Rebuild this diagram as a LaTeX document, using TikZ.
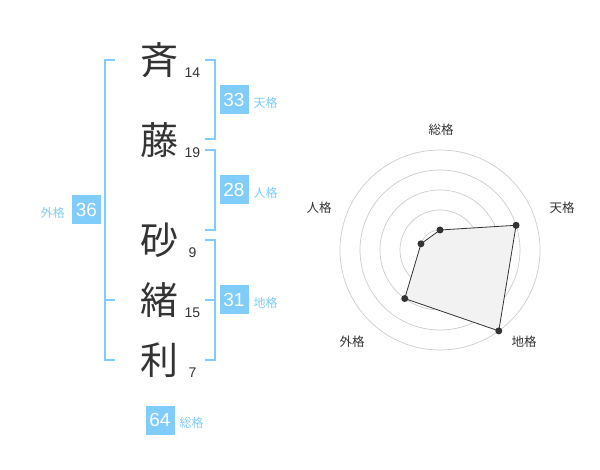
\documentclass[tikz,border=0pt]{standalone}
\usepackage{fontspec}
\setmainfont{Liberation Sans}
\newfontfamily\jp{Noto Sans CJK JP}
\definecolor{kakuBlue}{HTML}{80CCFA}
\definecolor{inkGray}{HTML}{333333}
\definecolor{ringGray}{HTML}{CCCCCC}
\definecolor{areaGray}{HTML}{F2F2F2}

\begin{document}
\begin{tikzpicture}[x=1pt, y=-1pt,
    kanji/.style={font=\jp\fontsize{38}{38}\selectfont, text=inkGray, inner sep=0pt},
    strokes/.style={font=\fontsize{14}{14}\selectfont, text=inkGray, inner sep=0pt},
    score/.style={fill=kakuBlue, text=white, font=\fontsize{19}{19}\selectfont,
                  minimum size=29pt, inner sep=0pt},
    kaku/.style={text=kakuBlue, font=\jp\fontsize{12}{12}\selectfont, inner sep=0pt},
    bracket/.style={draw=kakuBlue, line width=1.6pt},
    axislabel/.style={text=inkGray, font=\jp\fontsize{12.5}{12.5}\selectfont, inner sep=0pt}]
       \useasboundingbox (0,0) rectangle (600,470);
       % name and strokes
       \node[kanji] (sei1) at (159,60) {斉};
       \node[strokes] at (192.5,73) {14};
       \node[kanji] (sei2) at (159,140) {藤};
       \node[strokes] at (192.5,153) {19};
       \node[kanji] (mei1) at (159,240) {砂};
       \node[strokes] at (192.5,253) {9};
       \node[kanji] (mei2) at (159,300) {緒};
       \node[strokes] at (192.5,313) {15};
       \node[kanji] (mei3) at (159,360) {利};
       \node[strokes] at (192.5,373) {7};
       % brackets
       \draw[bracket] (115,60) -- (105,60) -- (105,360) -- (115,360);
       \draw[bracket] (105,300) -- (115,300);
       \draw[bracket] (205,60) -- (215,60) -- (215,139) -- (205,139);
       \draw[bracket] (205,150) -- (215,150) -- (215,230) -- (205,230);
       \draw[bracket] (205,240) -- (215,240) -- (215,360) -- (205,360);
       \draw[bracket] (205,300) -- (215,300);
       % scores
       \node[score] (tenkaku) at (234,100) {33};
       \node[kaku, anchor=west] at (253.5,103) {天格};
       \node[score] (jinkaku) at (234,190) {28};
       \node[kaku, anchor=west] at (253.5,193) {人格};
       \node[score] (chikaku) at (234,300) {31};
       \node[kaku, anchor=west] at (253.5,303) {地格};
       \node[score] (gaikaku) at (86.5,210) {36};
       \node[kaku, anchor=east] at (65,213) {外格};
       \node[score] (soukaku) at (160,420) {64};
       \node[kaku, anchor=west] at (179.5,423) {総格};
       % radar
       \begin{scope}[shift={(440,250)}, y=1pt]
          \foreach \r in {20,40,60,80,100}
             \draw[ringGray, line width=0.7pt] (0,0) circle (\r);
          \fill[ringGray] (0,0) circle (3.2);
          \coordinate (pSou) at (90:20);
          \coordinate (pTen) at (18:80);
          \coordinate (pChi) at (-54:100);
          \coordinate (pGai) at (-126:60);
          \coordinate (pJin) at (162:20);
          \filldraw[fill=areaGray, draw=inkGray, line width=0.8pt]
             (pSou) -- (pTen) -- (pChi) -- (pGai) -- (pJin) -- cycle;
          \foreach \p in {pSou,pTen,pChi,pGai,pJin}
             \fill[inkGray] (\p) circle (3.5);
       \end{scope}
       \node[axislabel] at (441,130) {総格};
       \node[axislabel] at (562,208) {天格};
       \node[axislabel] at (524,342) {地格};
       \node[axislabel] at (352,342) {外格};
       \node[axislabel] at (319,208) {人格};
\end{tikzpicture}
\end{document}
